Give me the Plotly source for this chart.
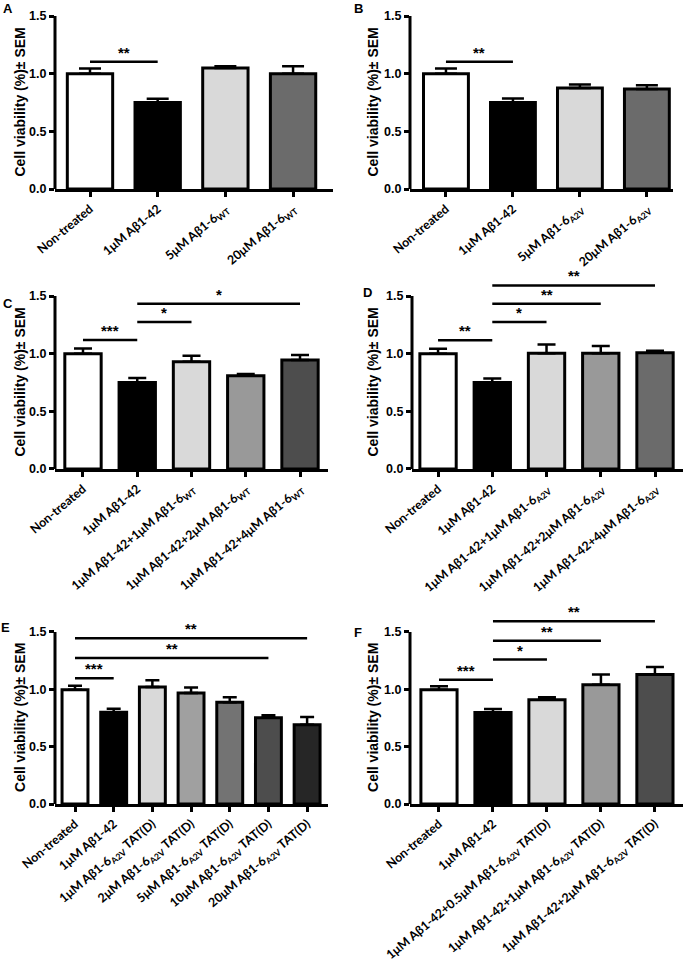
import plotly.graph_objects as go

W, H = 685, 966

# ---------------- data ----------------
A_labels = ["Non-treated", "1μM Aβ1-42", "5μM Aβ1-6<sub>WT</sub>", "20μM Aβ1-6<sub>WT</sub>"]
A_values = [1.00, 0.75, 1.05, 1.00]
A_sem = [0.045, 0.033, 0.015, 0.065]
A_colors = ["#ffffff", "#000000", "#d9d9d9", "#6b6b6b"]
A_sig = [(0, 1, 1.104, "**")]

B_labels = ["Non-treated", "1μM Aβ1-42", "5μM Aβ1-6<sub>A2V</sub>", "20μM Aβ1-6<sub>A2V</sub>"]
B_values = [1.00, 0.75, 0.876, 0.867]
B_sem = [0.045, 0.035, 0.031, 0.032]
B_colors = ["#ffffff", "#000000", "#d9d9d9", "#6b6b6b"]
B_sig = [(0, 1, 1.104, "**")]

C_labels = ["Non-treated", "1μM Aβ1-42", "1μM Aβ1-42+1μM Aβ1-6<sub>WT</sub>",
            "1μM Aβ1-42+2μM Aβ1-6<sub>WT</sub>", "1μM Aβ1-42+4μM Aβ1-6<sub>WT</sub>"]
C_values = [1.00, 0.751, 0.93, 0.809, 0.945]
C_sem = [0.045, 0.038, 0.053, 0.015, 0.043]
C_colors = ["#ffffff", "#000000", "#d9d9d9", "#999999", "#4d4d4d"]
C_sig = [(0, 1, 1.118, "***"), (1, 2, 1.275, "*"), (1, 4, 1.434, "*")]

D_labels = ["Non-treated", "1μM Aβ1-42", "1μM Aβ1-42+1μM Aβ1-6<sub>A2V</sub>",
            "1μM Aβ1-42+2μM Aβ1-6<sub>A2V</sub>", "1μM Aβ1-42+4μM Aβ1-6<sub>A2V</sub>"]
D_values = [1.00, 0.75, 1.003, 1.003, 1.009]
D_sem = [0.042, 0.036, 0.077, 0.063, 0.017]
D_colors = ["#ffffff", "#000000", "#d9d9d9", "#999999", "#6b6b6b"]
D_sig = [(0, 1, 1.116, "**"), (1, 2, 1.275, "*"), (1, 3, 1.434, "**"), (1, 4, 1.592, "**")]

E_labels = ["Non-treated", "1μM Aβ1-42", "1μM Aβ1-6<sub>A2V</sub> TAT(D)", "2μM Aβ1-6<sub>A2V</sub> TAT(D)",
            "5μM Aβ1-6<sub>A2V</sub> TAT(D)", "10μM Aβ1-6<sub>A2V</sub> TAT(D)", "20μM Aβ1-6<sub>A2V</sub> TAT(D)"]
E_values = [0.997, 0.80, 1.02, 0.968, 0.887, 0.753, 0.692]
E_sem = [0.035, 0.031, 0.058, 0.047, 0.043, 0.02, 0.067]
E_colors = ["#ffffff", "#000000", "#d9d9d9", "#a0a0a0", "#737373", "#4d4d4d", "#262626"]
E_sig = [(0, 1, 1.096, "***"), (0, 5, 1.273, "**"), (0, 6, 1.445, "**")]

F_labels = ["Non-treated", "1μM Aβ1-42", "1μM Aβ1-42+0.5μM Aβ1-6<sub>A2V</sub> TAT(D)",
            "1μM Aβ1-42+1μM Aβ1-6<sub>A2V</sub> TAT(D)", "1μM Aβ1-42+2μM Aβ1-6<sub>A2V</sub> TAT(D)"]
F_values = [0.997, 0.797, 0.91, 1.04, 1.13]
F_sem = [0.029, 0.031, 0.02, 0.09, 0.065]
F_colors = ["#ffffff", "#000000", "#d9d9d9", "#999999", "#4d4d4d"]
F_sig = [(0, 1, 1.084, "***"), (1, 2, 1.259, "*"), (1, 3, 1.424, "**"), (1, 4, 1.593, "**")]

y_ticks = [0, 0.5, 1.0, 1.5]
y_title = "Cell viability (%)± SEM"
panel_letters = ["A", "B", "C", "D", "E", "F"]

# ---------------- layout geometry (pixels) ----------------
panels = [
    dict(lab=A_labels, val=A_values, sem=A_sem, col=A_colors, sig=A_sig,
         xl=55, xr=333, p0=189, ppu=115.3, ymax=1.6, xrange=[-0.517, 3.59], cap=11,
         letter=(8, 9), tx=20),
    dict(lab=B_labels, val=B_values, sem=B_sem, col=B_colors, sig=B_sig,
         xl=410, xr=673, p0=189, ppu=115.3, ymax=1.6, xrange=[-0.537, 3.39], cap=11,
         letter=(358, 8), tx=373),
    dict(lab=C_labels, val=C_values, sem=C_sem, col=C_colors, sig=C_sig,
         xl=55, xr=328, p0=469, ppu=115.3, ymax=1.75, xrange=[-0.516, 4.516], cap=9,
         letter=(8, 303), tx=20),
    dict(lab=D_labels, val=D_values, sem=D_sem, col=D_colors, sig=D_sig,
         xl=412, xr=683, p0=469, ppu=115.3, ymax=1.75, xrange=[-0.48, 4.516], cap=9,
         letter=(367, 292), tx=373),
    dict(lab=E_labels, val=E_values, sem=E_sem, col=E_colors, sig=E_sig,
         xl=55, xr=328, p0=804, ppu=114.7, ymax=1.75, xrange=[-0.517, 6.54], cap=7,
         letter=(5, 627), tx=20),
    dict(lab=F_labels, val=F_values, sem=F_sem, col=F_colors, sig=F_sig,
         xl=410, xr=683, p0=804, ppu=114.7, ymax=1.75, xrange=[-0.537, 4.52], cap=9,
         letter=(358, 632), tx=373),
]

fig = go.Figure()
layout = dict(width=W, height=H, margin=dict(l=0, r=0, t=0, b=0, autoexpand=False),
              paper_bgcolor="white", plot_bgcolor="white", showlegend=False)
shapes = []
annotations = []

AX_FONT = "Liberation Sans"
LBL_FONT = "Lato"

for i, p in enumerate(panels):
    n = i + 1
    xa = "x" if n == 1 else f"x{n}"
    ya = "y" if n == 1 else f"y{n}"
    xkey = "xaxis" if n == 1 else f"xaxis{n}"
    ykey = "yaxis" if n == 1 else f"yaxis{n}"
    idx = list(range(len(p["val"])))
    fig.add_trace(go.Bar(
        x=idx, y=p["val"], xaxis=xa, yaxis=ya, width=0.67,
        marker=dict(color=p["col"], line=dict(color="black", width=3)),
        error_y=dict(type="data", symmetric=False, array=p["sem"],
                     arrayminus=[0] * len(p["sem"]), color="black",
                     thickness=2.5, width=p["cap"]),
        hoverinfo="skip",
    ))
    top_px = p["p0"] - p["ymax"] * p["ppu"]
    dom_x = [p["xl"] / W, p["xr"] / W]
    dom_y = [1 - p["p0"] / H, 1 - top_px / H]
    layout[xkey] = dict(domain=dom_x, range=p["xrange"], anchor=ya, automargin=False,
                        tickmode="array", tickvals=idx, ticktext=p["lab"],
                        tickangle=-40, ticks="outside", ticklen=5, tickwidth=2.5,
                        tickcolor="black", showline=True, linewidth=3, linecolor="black",
                        showgrid=False, zeroline=False,
                        tickfont=dict(family=LBL_FONT, size=12.4, color="black", weight="bold"))
    layout[ykey] = dict(domain=dom_y, range=[0, p["ymax"]], anchor=xa, automargin=False,
                        tickmode="array", tickvals=y_ticks, ticktext=[f"{v:.1f}" for v in y_ticks],
                        ticks="outside", ticklen=5, tickwidth=2.5, tickcolor="black",
                        showline=False, showgrid=False, zeroline=False,
                        tickfont=dict(family=AX_FONT, size=12.5, color="black", weight="bold"))
    # y axis line from 0 to 1.5
    shapes.append(dict(type="line", xref="paper", yref=ya,
                       x0=p["xl"] / W, x1=p["xl"] / W, y0=0, y1=y_ticks[-1],
                       line=dict(color="black", width=3)))
    # significance bars
    for (a, b, h, txt) in p["sig"]:
        shapes.append(dict(type="line", xref=xa, yref=ya, x0=a, x1=b, y0=h, y1=h,
                           line=dict(color="black", width=2.5)))
        annotations.append(dict(xref=xa, yref=ya, x=(a + b) / 2, y=h, text=txt,
                                showarrow=False, yanchor="bottom", yshift=-1,
                                font=dict(family=AX_FONT, size=15, color="black", weight="bold")))
    # y title
    mid_px = p["p0"] - 0.75 * p["ppu"]
    annotations.append(dict(xref="paper", yref="paper", x=p["tx"] / W, y=1 - mid_px / H,
                            text=y_title, textangle=-90, showarrow=False,
                            xanchor="center", yanchor="middle",
                            font=dict(family=AX_FONT, size=14, color="black", weight="bold")))
    # panel letter
    lx, ly = p["letter"]
    annotations.append(dict(xref="paper", yref="paper", x=lx / W, y=1 - ly / H,
                            text=panel_letters[i], showarrow=False,
                            xanchor="center", yanchor="middle",
                            font=dict(family=AX_FONT, size=13, color="black", weight="bold")))

layout["shapes"] = shapes
layout["annotations"] = annotations
fig.update_layout(**layout)
fig.write_html("out.html", config={"displayModeBar": False},
               post_script="document.body.style.margin='0px';document.body.style.overflow='hidden';")
